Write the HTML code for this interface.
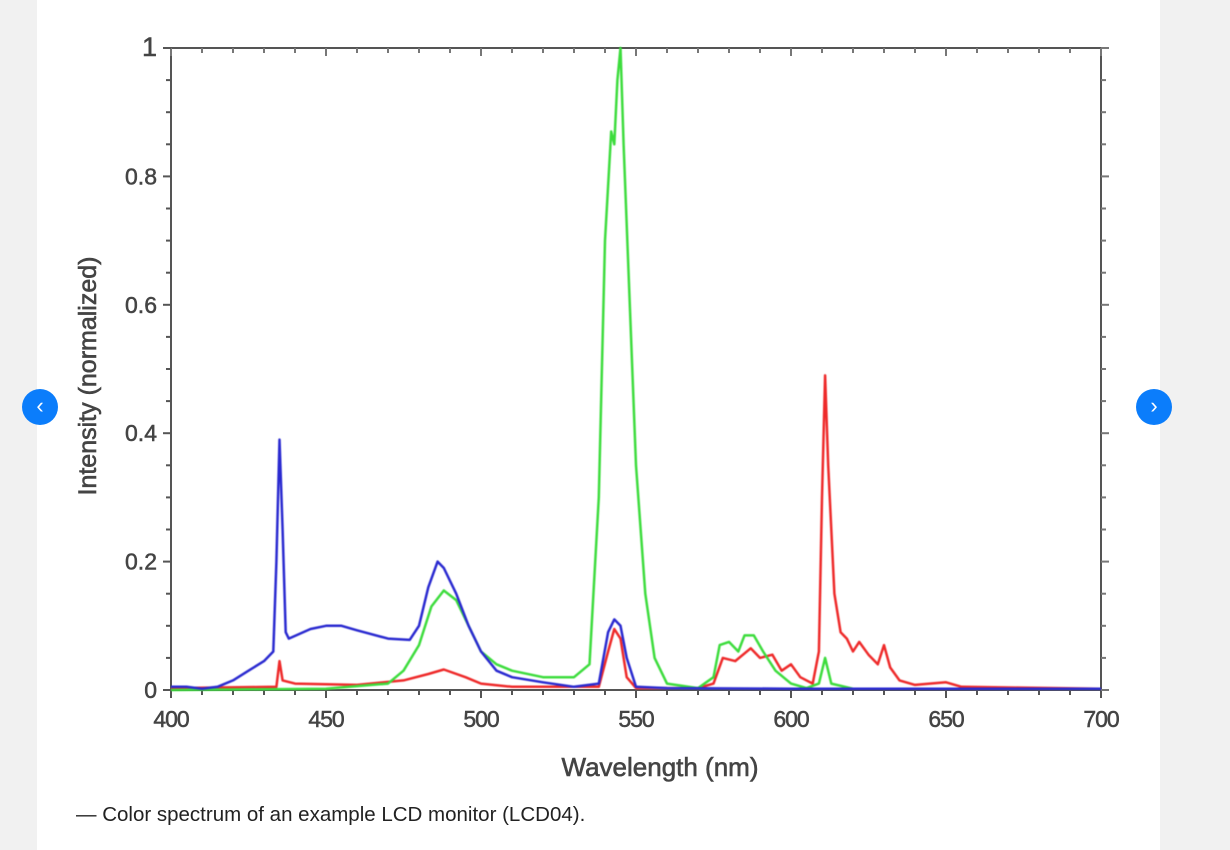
<!DOCTYPE html>
<html><head><meta charset="utf-8"><style>
body{margin:0;width:1230px;height:850px;background:#f1f1f1;overflow:hidden;font-family:"Liberation Sans",sans-serif}
.card{position:absolute;left:37px;top:0;width:1123px;height:850px;background:#fff}
.nav{position:absolute;width:36px;height:36px;border-radius:50%;background:#0b7dfb;color:#fff;font-size:22px;line-height:34px;text-align:center}
.cap{position:absolute;left:76px;top:803px;font-size:20.5px;color:#222}
svg{position:absolute;left:0;top:0}
</style></head><body>
<div class="card"></div>
<svg width="1230" height="850">
<g id="axes"></g>
<g id="series" style="filter:blur(0.6px)"></g>
<text x="660" y="776" text-anchor="middle" font-size="26" fill="#444" stroke="#444" stroke-width="0.6">Wavelength (nm)</text>
<text transform="translate(96,376) rotate(-90)" text-anchor="middle" font-size="25" fill="#444" stroke="#444" stroke-width="0.6">Intensity (normalized)</text>
</svg>
<div class="nav" style="left:22px;top:389px">&#8249;</div>
<div class="nav" style="left:1136px;top:389px">&#8250;</div>
<div class="cap">— Color spectrum of an example LCD monitor (LCD04).</div>
<script>
const xTicks=[400,450,500,550,600,650,700];
const yTicks=[0,0.2,0.4,0.6,0.8,1];
const yTickLabels=["0","0.2","0.4","0.6","0.8","1"];
const blueWl=[400,405,410,415,420,425,430,433,434,435,436,437,438,445,450,455,460,470,477,480,483,486,488,492,496,500,505,510,520,530,538,541,543,545,547,550,560,600,700];
const blueVal=[0.005,0.005,0.002,0.005,0.015,0.03,0.045,0.06,0.2,0.39,0.25,0.09,0.08,0.095,0.1,0.1,0.093,0.08,0.078,0.1,0.16,0.2,0.19,0.15,0.1,0.06,0.03,0.02,0.012,0.005,0.01,0.09,0.11,0.1,0.05,0.005,0.003,0.002,0.002];
const greenWl=[400,450,470,475,480,484,488,492,496,500,505,510,520,530,535,538,540,542,543,544,545,546,548,550,553,556,560,570,575,577,580,583,585,588,591,595,600,605,609,611,613,620,700];
const greenVal=[0,0.002,0.01,0.03,0.07,0.13,0.155,0.14,0.1,0.06,0.04,0.03,0.02,0.02,0.04,0.3,0.7,0.87,0.85,0.95,1.0,0.85,0.6,0.35,0.15,0.05,0.01,0.003,0.02,0.07,0.075,0.06,0.085,0.085,0.06,0.03,0.01,0.003,0.01,0.05,0.01,0.002,0.002];
const redWl=[400,434,435,436,440,460,475,483,488,495,500,510,538,541,543,545,547,550,570,575,578,582,587,590,594,597,600,603,607,609,610,611,612,614,616,618,620,622,625,628,630,632,635,640,650,655,700];
const redVal=[0.003,0.005,0.045,0.015,0.01,0.008,0.015,0.025,0.032,0.02,0.01,0.005,0.005,0.06,0.095,0.08,0.02,0.003,0.003,0.01,0.05,0.045,0.065,0.05,0.055,0.03,0.04,0.02,0.01,0.06,0.3,0.49,0.35,0.15,0.09,0.08,0.06,0.075,0.055,0.04,0.07,0.035,0.015,0.008,0.012,0.005,0.002];
const X0=171,X1=1101,Y0=690,Y1=48;
const sx=v=>X0+(v-400)/300*(X1-X0);
const sy=v=>Y0-v*(Y0-Y1);
const NS="http://www.w3.org/2000/svg";
const ax=document.getElementById('axes');
function mk(t,a,p){const e=document.createElementNS(NS,t);for(const k in a)e.setAttribute(k,a[k]);p.appendChild(e);return e;}
const frame=mk('rect',{x:X0,y:Y1,width:X1-X0,height:Y0-Y1,fill:'none',stroke:'#555','stroke-width':2},ax);


for(let w=400;w<=700;w+=10){const x=sx(w);const L=(w%50===0)?8:5;
mk('line',{x1:x,x2:x,y1:Y0,y2:Y0+L,stroke:'#555','stroke-width':2},ax);
mk('line',{x1:x,x2:x,y1:Y1,y2:Y1+L,stroke:'#777','stroke-width':2},ax);}
for(let i=0;i<=20;i++){const y=sy(i/20);const L=(i%4===0)?8:5;
mk('line',{x1:X0-L,x2:X0,y1:y,y2:y,stroke:'#555','stroke-width':2},ax);
mk('line',{x1:X1,x2:X1+L,y1:y,y2:y,stroke:'#777','stroke-width':2},ax);}
xTicks.forEach(v=>{const t=mk('text',{x:sx(v),y:Y0+37,'text-anchor':'middle','font-size':23,fill:'#444',stroke:'#444','stroke-width':0.5,'letter-spacing':'-1'},ax);t.textContent=v;

});
yTicks.forEach((v,i)=>{const t=mk('text',{x:X0-14,y:sy(v)+8,'text-anchor':'end','font-size':i===5?27:23,fill:'#444',stroke:'#444','stroke-width':0.5},ax);t.textContent=yTickLabels[i];

});
const sg=document.getElementById('series');
function line(wl,val,col,name){const d=wl.map((w,i)=>(i?'L':'M')+sx(w).toFixed(1)+','+sy(val[i]).toFixed(1)).join('');
const p=mk('path',{d:d,fill:'none',stroke:col,'stroke-width':2.5,'stroke-linejoin':'round'},sg);

}
line(redWl,redVal,'#ee2a2a','red-series');
line(greenWl,greenVal,'#3ddc3d','green-series');
line(blueWl,blueVal,'#2a2ad0','blue-series');
</script>
</body></html>
